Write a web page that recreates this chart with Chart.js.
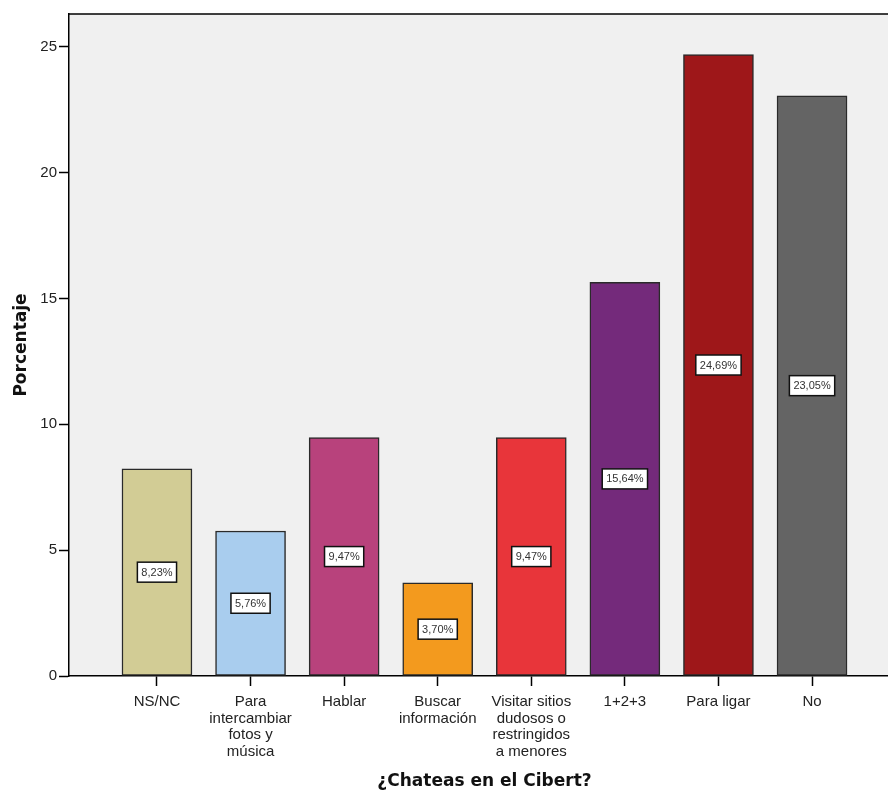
<!DOCTYPE html>
<html>
<head>
<meta charset="utf-8">
<script src="https://cdn.jsdelivr.net/npm/chart.js@4.4.1/dist/chart.umd.min.js"></script>
<style>
html,body{margin:0;padding:0;background:#fff;overflow:hidden;width:888px;height:796px;}
canvas{display:block;}
</style>
</head>
<body>
<canvas id="c" width="900" height="796"></canvas>
<script>
const categories = [
  ["NS/NC"],
  ["Para", "intercambiar", "fotos y", "música"],
  ["Hablar"],
  ["Buscar", "información"],
  ["Visitar sitios", "dudosos o", "restringidos", "a menores"],
  ["1+2+3"],
  ["Para ligar"],
  ["No"]
];
const percentages = [8.23, 5.76, 9.47, 3.70, 9.47, 15.64, 24.69, 23.05];
const valueLabels = ["8,23%", "5,76%", "9,47%", "3,70%", "9,47%", "15,64%", "24,69%", "23,05%"];
const barColors = ["#d2cc95", "#a9cdee", "#b8427c", "#f39a1e", "#e8353a", "#742a7b", "#9e1719", "#646464"];
const yTicks = [0, 5, 10, 15, 20, 25];
const xTitle = "¿Chateas en el Cibert?";
const yTitle = "Porcentaje";

const points = percentages.map((v, i) => ({x: i, y: v}));

const bgPlugin = {
  id: 'bg',
  beforeDraw(chart) {
    const {ctx, chartArea: a} = chart;
    ctx.save();
    ctx.fillStyle = '#f0f0f0';
    ctx.fillRect(a.left, a.top, a.right - a.left, a.bottom - a.top);
    ctx.strokeStyle = '#000';
    ctx.lineWidth = 1.5;
    ctx.beginPath();
    ctx.moveTo(a.left, a.top);
    ctx.lineTo(a.right, a.top);
    ctx.stroke();
    ctx.restore();
  }
};

const labelPlugin = {
  id: 'vlabels',
  afterDatasetsDraw(chart) {
    const {ctx} = chart;
    const meta = chart.getDatasetMeta(0);
    ctx.save();
    ctx.font = '11px "Liberation Sans", Arial, sans-serif';
    ctx.textAlign = 'center';
    ctx.textBaseline = 'middle';
    meta.data.forEach((bar, i) => {
      const cy = (bar.y + bar.base) / 2;
      const txt = valueLabels[i];
      const w = ctx.measureText(txt).width + 8;
      const h = 20;
      ctx.fillStyle = '#fff';
      ctx.fillRect(bar.x - w / 2, cy - h / 2, w, h);
      ctx.strokeStyle = '#111';
      ctx.lineWidth = 1.5;
      ctx.strokeRect(bar.x - w / 2, cy - h / 2, w, h);
      ctx.fillStyle = '#333';
      ctx.fillText(txt, bar.x, cy + 0.5);
    });
    ctx.restore();
  }
};

new Chart(document.getElementById('c'), {
  type: 'bar',
  data: {
    datasets: [{
      data: points,
      backgroundColor: barColors,
      borderColor: '#2a2a2a',
      borderWidth: 1.5,
      borderSkipped: false,
      barThickness: 70
    }]
  },
  options: {
    responsive: false,
    devicePixelRatio: 1,
    animation: false,
    layout: {padding: {top: 14, left: 0, right: 0, bottom: 0}},
    plugins: {legend: {display: false}, tooltip: {enabled: false}},
    scales: {
      x: {
        type: 'linear',
        min: -0.94,
        max: 7.94,
        offset: false,
        afterBuildTicks(axis) { axis.ticks = categories.map((_, i) => ({value: i})); },
        afterFit(scale) { scale.height = 120; },
        grid: {offset: false, drawOnChartArea: false, drawTicks: true, tickLength: 10, tickColor: '#000', tickWidth: 1.5},
        border: {display: true, color: '#000', width: 1.5},
        ticks: {
          autoSkip: false, maxRotation: 0, minRotation: 0, padding: 8,
          color: '#222',
          font: {family: '"Liberation Sans", Arial, sans-serif', size: 15, lineHeight: 1.1},
          callback: (v) => categories[v]
        },
        title: {
          display: true, text: xTitle, color: '#111',
          font: {family: '"DejaVu Sans", sans-serif', size: 17, weight: 'bold'},
          padding: {top: 0, bottom: 4}
        }
      },
      y: {
        min: 0,
        max: 26.3,
        afterBuildTicks(axis) { axis.ticks = yTicks.map(v => ({value: v})); },
        afterFit(scale) { scale.width = 69; },
        grid: {drawOnChartArea: false, drawTicks: true, tickLength: 10, tickColor: '#000', tickWidth: 1.5},
        border: {display: true, color: '#000', width: 1.5},
        ticks: {
          padding: 2, color: '#222',
          font: {family: '"Liberation Sans", Arial, sans-serif', size: 15}
        },
        title: {
          display: true, text: yTitle, color: '#111',
          font: {family: '"DejaVu Sans", sans-serif', size: 17, weight: 'bold'},
          padding: {top: 11, bottom: 0}
        }
      }
    }
  },
  plugins: [bgPlugin, labelPlugin]
});
</script>
</body>
</html>
